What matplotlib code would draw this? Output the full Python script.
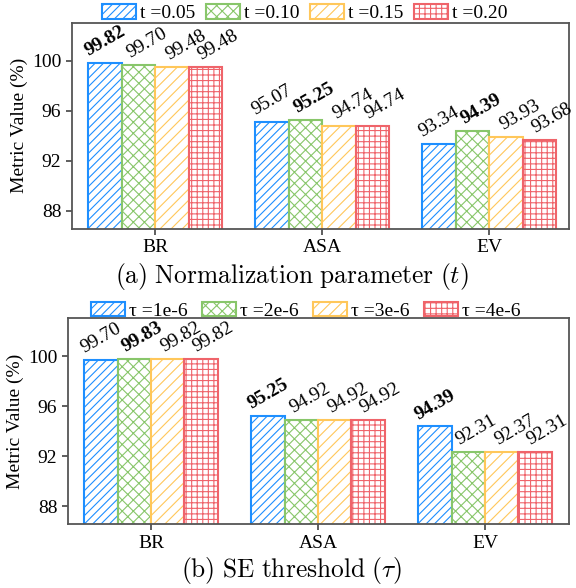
import matplotlib
matplotlib.use("Agg")
import matplotlib.pyplot as plt
import numpy as np

plt.rcParams['font.family'] = ['Liberation Serif', 'DejaVu Serif']
plt.rcParams['mathtext.fontset'] = 'cm'
plt.rcParams['hatch.linewidth'] = 0.8

categories = ["BR", "ASA", "EV"]

labels_a = ["t =0.05", "t =0.10", "t =0.15", "t =0.20"]
values_a = [
    [99.82, 95.07, 93.34],
    [99.70, 95.25, 94.39],
    [99.48, 94.74, 93.93],
    [99.48, 94.74, 93.68],
]

labels_b = ["τ =1e-6", "τ =2e-6", "τ =3e-6", "τ =4e-6"]
values_b = [
    [99.70, 95.25, 94.39],
    [99.83, 94.92, 92.31],
    [99.82, 94.92, 92.37],
    [99.82, 94.92, 92.31],
]

yticks = [88, 92, 96, 100]
captions = [r"$\mathrm{(a)\ Normalization\ parameter\ }(t)$",
            r"$\mathrm{(b)\ SE\ threshold\ }(\tau)$"]

colors = ["#1e8fff", "#88c66a", "#ffc75a", "#ef646a"]
hatches = ["////", "xxx", "///", "+++"]
label_dx = [0, 6, 10, 9]  # points, label nudges to the right per series

fig = plt.figure(figsize=(5.76, 5.88), dpi=100)
ax_a = fig.add_axes([0.1245, 0.6111, 0.8634, 0.3503])
ax_b = fig.add_axes([0.1175, 0.1083, 0.8703, 0.3503])


def draw(ax, values, labels, caption, xlim, leg_xy, cap_y, colspace):
    x = np.arange(len(categories))
    w = 0.2
    arr = np.array(values)
    best = arr.max(axis=0)
    handles = []
    for i, (vals, lab) in enumerate(zip(values, labels)):
        pos = x + (i - 1.5) * w
        bars = ax.bar(pos, vals, width=w, facecolor="white", edgecolor=colors[i],
                      hatch=hatches[i], linewidth=1.5, label=lab, zorder=2)
        handles.append(bars)
        for j, (p, v) in enumerate(zip(pos, vals)):
            ax.annotate(f"{v:.2f}", xy=(p, v), xytext=(label_dx[i], 2.5),
                        textcoords="offset points",
                        ha="center", va="bottom", rotation=30, fontsize=14,
                        fontweight="bold" if v == best[j] else "normal")
    ax.set_ylim(86.55, 103.05)
    ax.set_xlim(*xlim)
    ax.set_xticks(x)
    ax.set_xticklabels(categories, fontsize=14)
    ax.set_yticks(yticks)
    ax.set_yticklabels([str(t) for t in yticks], fontsize=14)
    ax.set_ylabel("Metric Value (%)", fontsize=14, labelpad=3)
    for s in ax.spines.values():
        s.set_color("#555555")
        s.set_linewidth(1.3)
    ax.tick_params(axis="both", length=4, width=1.1, color="#333333", pad=3.5)
    fig.text(292 / 576, cap_y, caption, fontsize=18.3, ha="center", va="center")
    fig.legend(handles=handles, labels=labels, loc="center",
               bbox_to_anchor=leg_xy, ncol=4, frameon=False, fontsize=14,
               handlelength=1.75, handleheight=0.8, handletextpad=0.2,
               columnspacing=colspace, borderpad=0.1)


draw(ax_a, values_a, labels_a, captions[0], (-0.499, 2.477),
     (304.8 / 576, 1 - 13.3 / 588), 1 - 277 / 588, 0.55)
draw(ax_b, values_b, labels_b, captions[1], (-0.499, 2.503),
     (305.5 / 576, 1 - 310.7 / 588), 1 - 571 / 588, 0.75)

fig.savefig("out.png", dpi=100)
